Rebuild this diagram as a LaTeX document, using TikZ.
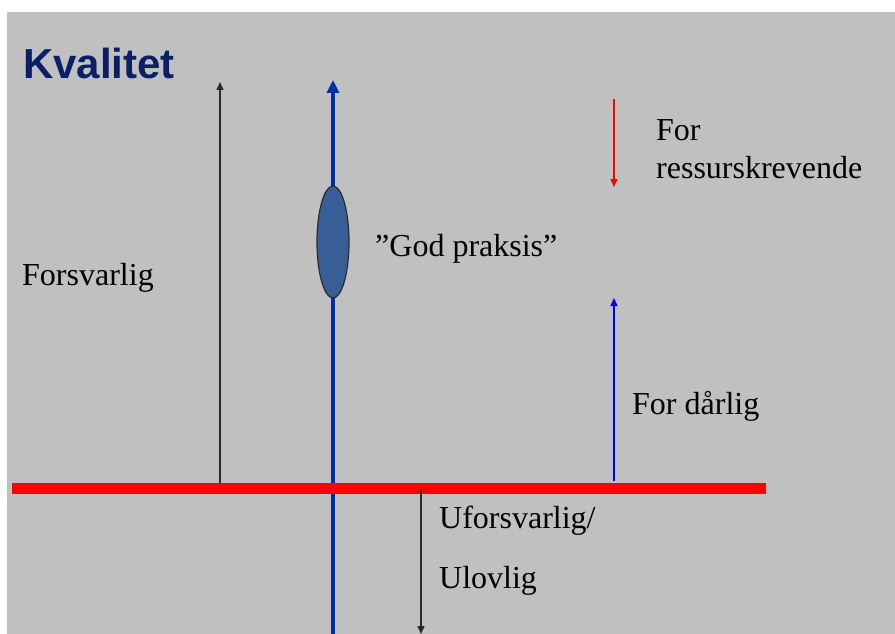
\documentclass[tikz,border=0pt]{standalone}
\usepackage{fontspec}
\setmainfont{Liberation Serif}
\newfontfamily\headfont{Liberation Sans}
\usetikzlibrary{arrows.meta,shapes.geometric}
\definecolor{bggray}{HTML}{C0C0C0}
\definecolor{titleblue}{HTML}{0A1F66}
\definecolor{axisblue}{HTML}{0030A8}
\definecolor{ovalblue}{HTML}{385E98}
\definecolor{darkline}{HTML}{2E2A2A}
\tikzset{
  lbl/.style={anchor=base west, inner sep=0pt, font=\fontsize{32}{38}\selectfont, text=black},
  thinarrow/.style={line width=1.5pt, -{Triangle[length=8pt,width=7pt]}},
}
\begin{document}
\begin{tikzpicture}[x=1pt,y=-1pt]
\useasboundingbox (0,0) rectangle (895,634);
\fill[white] (0,0) rectangle (895,634);
\fill[bggray] (7,12) rectangle (895,634);
% title
\node[anchor=base west, inner sep=0pt, font=\headfont\bfseries\fontsize{42}{48}\selectfont, text=titleblue] (title) at (23,78) {Kvalitet};
% coordinates
\coordinate (redL) at (12,488.5);
\coordinate (redR) at (766,488.5);
\coordinate (blueBot) at (333,634);
\coordinate (blueTop) at (333,80);
\coordinate (blkBot) at (220,488);
\coordinate (blkTop) at (220,82);
\coordinate (dnTop) at (421,489);
\coordinate (dnBot) at (421,634);
\coordinate (rTop) at (614,99);
\coordinate (rBot) at (614,187);
\coordinate (bBot) at (614,481);
\coordinate (bTop) at (614,298);
% black up arrow
\draw[darkline, thinarrow] (blkBot) -- (blkTop);
% blue axis
\draw[axisblue, line width=4pt, -{Triangle[length=13pt,width=12pt]}] (blueBot) -- (blueTop);
% red bar
\draw[red, line width=11pt] (redL) -- (redR);
% black down arrow
\draw[darkline, thinarrow] (dnTop) -- (dnBot);
% red arrow
\draw[red, thinarrow] (rTop) -- (rBot);
% blue arrow
\draw[blue, thinarrow] (bBot) -- (bTop);
% oval
\node[ellipse, draw=darkline, line width=1.2pt, fill=ovalblue, minimum width=32pt, minimum height=112pt, inner sep=0pt] (oval) at (333,242) {};
% labels
\node[lbl] (forsv) at (22,285.5) {Forsvarlig};
\node[lbl] (god) at (375,256.5) {”God praksis”};
\node[lbl] (for1) at (656,140) {For};
\node[lbl] (ress) at (656,178) {ressurskrevende};
\node[lbl] (darl) at (632,414) {For dårlig};
\node[lbl] (ufor) at (439,528) {Uforsvarlig/};
\node[lbl] (ulov) at (439,588) {Ulovlig};
\end{tikzpicture}
\end{document}
